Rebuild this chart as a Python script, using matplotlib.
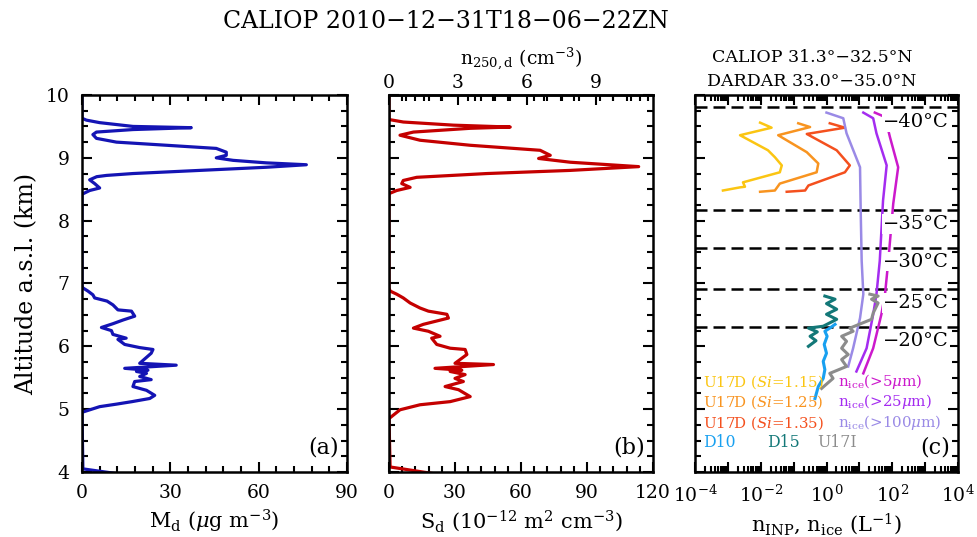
import matplotlib
matplotlib.use("Agg")
import matplotlib.pyplot as plt
import numpy as np
from matplotlib.ticker import MultipleLocator, LogLocator, NullFormatter, FixedLocator

plt.rcParams['font.family'] = ['DejaVu Serif']
plt.rcParams['mathtext.fontset'] = 'dejavuserif'

# ---------------- data ----------------
# Panel (a): dust mass concentration M_d (ug m-3) vs altitude (km)
alt_a = [3.96, 4.05, 4.95, 5.04, 5.08, 5.12, 5.17, 5.22, 5.30, 5.36, 5.44, 5.47, 5.52, 5.57, 5.60,
         5.62, 5.65, 5.70, 5.73, 5.89, 5.95, 5.98, 6.03, 6.11, 6.13, 6.19, 6.25, 6.30, 6.36, 6.42,
         6.48, 6.56, 6.58, 6.66, 6.72, 6.77, 6.82, 6.88, 6.93, 6.96, 8.42, 8.48, 8.52, 8.59, 8.65,
         8.70, 8.72, 8.75, 8.80, 8.85, 8.89, 8.92, 8.96, 9.00, 9.04, 9.09, 9.15, 9.20, 9.25, 9.31,
         9.37, 9.41, 9.45, 9.48, 9.50, 9.56, 9.60, 9.63, 10.0]
md = [13.9, 0.3, 0.0, 6.0, 11.7, 17.0, 23.0, 24.7, 21.9, 17.3, 17.9, 23.5, 19.6, 21.9, 18.5,
      22.4, 14.5, 32.0, 19.6, 23.5, 24.1, 19.6, 14.5, 12.2, 15.0, 10.5, 10.0, 6.6, 10.5, 14.0,
      17.9, 16.8, 12.2, 10.5, 8.5, 4.3, 3.7, 2.0, 0.3, 0.0, 0.0, 2.6, 6.0, 4.3, 2.6,
      5.0, 8.3, 17.3, 40.0, 62.6, 76.2, 62.6, 51.3, 45.6, 49.0, 49.0, 45.6, 28.7, 11.7, 4.9,
      3.7, 4.9, 17.3, 37.1, 17.3, 6.0, 1.5, 0.0, 0.0]

# Panel (b): dust surface area S_d (1e-12 m2 cm-3) vs altitude (km)
alt_b = [3.97, 4.08, 4.85, 4.99, 5.07, 5.12, 5.20, 5.31, 5.36, 5.44, 5.49, 5.55, 5.60, 5.62, 5.65,
         5.71, 5.73, 5.87, 5.95, 5.97, 6.03, 6.13, 6.16, 6.24, 6.29, 6.35, 6.45, 6.51, 6.56, 6.61,
         6.69, 6.77, 6.83, 6.88, 6.93, 8.43, 8.48, 8.53, 8.59, 8.64, 8.69, 8.75, 8.80, 8.86, 8.93,
         8.99, 9.04, 9.12, 9.20, 9.28, 9.36, 9.41, 9.47, 9.49, 9.52, 9.57, 9.61, 10.0]
sd = [20.9, 0.5, 0.0, 5.0, 14.1, 27.8, 36.9, 31.6, 25.5, 33.8, 30.0, 34.6, 27.8, 33.1, 20.9,
      47.5, 30.0, 35.4, 34.6, 27.8, 21.7, 19.4, 23.2, 17.9, 11.1, 15.6, 27.0, 26.3, 17.9, 14.1,
      9.6, 6.5, 3.5, 0.5, 0.0, 0.0, 3.5, 9.6, 5.8, 6.5, 12.6, 44.5, 82.4, 113.5, 82.4,
      68.0, 73.3, 68.7, 36.9, 14.1, 5.0, 11.1, 36.9, 55.1, 29.3, 6.5, 0.0, 0.0]
n250_per_sd = 11.47 / 120.0   # top axis n_250,d (cm-3) per unit S_d

# Panel (c): INP / ice concentrations (L-1), log10 values vs altitude
alt_u17d = [9.56, 9.48, 9.36, 9.12, 9.01, 8.88, 8.77, 8.61, 8.54, 8.53, 8.48]
u17d_115 = [-2.02, -1.67, -2.63, -1.78, -1.57, -1.36, -1.42, -2.54, -2.48, -2.63, -3.15]
alt_u17d25 = [9.55, 9.49, 9.36, 9.09, 8.91, 8.77, 8.59, 8.48, 8.46]
u17d_125 = [-0.86, -0.50, -1.47, -0.60, -0.25, -0.30, -1.42, -1.57, -2.02]
alt_u17d35 = [9.55, 9.48, 9.38, 9.12, 8.88, 8.77, 8.56, 8.48, 8.46]
u17d_135 = [0.10, 0.56, -0.60, 0.31, 0.71, 0.56, -0.55, -0.65, -1.21]

alt_ice = [9.72, 9.63, 9.39, 8.85, 8.16, 7.36, 6.83, 6.45, 5.97, 5.68]
ice_100 = [0.00, 0.51, 0.61, 1.02, 1.04, 1.07, 1.12, 1.02, 0.81, 0.66]
alt_ice25 = [9.72, 9.63, 9.39, 8.88, 8.32, 7.36, 6.83, 6.51, 5.97, 5.60]
ice_25 = [1.12, 1.42, 1.52, 1.83, 1.72, 1.62, 1.52, 1.42, 1.22, 0.91]
alt_ice5 = [9.72, 9.65, 9.33, 8.85, 8.27, 7.36, 6.83, 6.51, 5.97, 5.57]
ice_5 = [1.47, 1.78, 1.93, 2.18, 2.03, 1.88, 1.78, 1.67, 1.42, 1.12]

alt_u17i = [5.33, 5.49, 5.57, 5.68, 5.79, 5.87, 5.97, 6.08, 6.16, 6.24, 6.29, 6.43, 6.53, 6.69, 6.75, 6.80, 6.83]
u17i = [-0.15, 0.20, 0.10, 0.61, 0.46, 0.66, 0.46, 0.61, 0.46, 0.81, 0.71, 1.37, 1.42, 1.57, 1.37, 1.57, 1.32]
alt_d10 = [5.17, 5.36, 5.49, 5.63, 5.76, 5.89, 6.03, 6.16, 6.24, 6.29, 6.35]
d10 = [-0.35, -0.25, -0.10, -0.05, -0.10, 0.00, -0.07, 0.02, -0.05, 0.10, 0.26]
alt_d15 = [6.00, 6.09, 6.16, 6.23, 6.29, 6.32, 6.43, 6.51, 6.59, 6.68, 6.75, 6.80]
d15 = [-0.55, -0.32, -0.50, -0.28, -0.55, -0.10, 0.31, 0.00, 0.31, 0.00, 0.26, -0.05]

iso_alt = [9.81, 8.17, 7.57, 6.91, 6.30]
temp_labels = ['\u221240\u00b0C', '\u221235\u00b0C', '\u221230\u00b0C', '\u221225\u00b0C', '\u221220\u00b0C']
temp_label_alt = [9.57, 7.95, 7.35, 6.69, 6.08]

# ---------------- figure ----------------
W, H = 977, 537
fig = plt.figure(figsize=(W / 100, H / 100), dpi=100)

def pos(x0, x1, y0, y1):
    return [x0 / W, 1 - y1 / H, (x1 - x0) / W, (y1 - y0) / H]

ax_a = fig.add_axes(pos(82, 347, 95, 472))
ax_b = fig.add_axes(pos(389, 653, 95, 472))
ax_c = fig.add_axes(pos(695, 958, 95, 472))

tick_fs = 13.5
for ax in (ax_a, ax_b, ax_c):
    for s in ax.spines.values():
        s.set_linewidth(1.8)
    ax.set_ylim(4, 10)
    ax.yaxis.set_major_locator(MultipleLocator(1))
    ax.yaxis.set_minor_locator(MultipleLocator(0.25))
    ax.tick_params(which='both', direction='in', top=True, right=True, width=1.5,
                   labelsize=tick_fs)
    ax.tick_params(which='major', length=7, pad=9)
    ax.tick_params(which='minor', length=4)

# panel a
ax_a.plot(md, alt_a, color='#1414b4', lw=2.3)
ax_a.set_xlim(0, 90)
ax_a.xaxis.set_major_locator(MultipleLocator(30))
ax_a.xaxis.set_minor_locator(MultipleLocator(6))
ax_a.set_ylabel('Altitude a.s.l. (km)', fontsize=17, labelpad=5)
ax_a.set_xlabel(r'M$_\mathregular{d}$ ($\mu$g m$^{-3}$)', fontsize=15, labelpad=4)
ax_a.text(0.97, 0.035, '(a)', transform=ax_a.transAxes, ha='right', va='bottom', fontsize=16)

# panel b
ax_b.plot(sd, alt_b, color='#c40000', lw=2.3)
ax_b.set_xlim(0, 120)
ax_b.xaxis.set_major_locator(MultipleLocator(30))
ax_b.xaxis.set_minor_locator(MultipleLocator(6))
ax_b.tick_params(labelleft=False, top=False)
ax_b.set_xlabel(r'S$_\mathregular{d}$ (10$^{-12}$ m$^2$ cm$^{-3}$)', fontsize=15, labelpad=4)
ax_b.text(0.97, 0.035, '(b)', transform=ax_b.transAxes, ha='right', va='bottom', fontsize=16)
sec = ax_b.secondary_xaxis('top', functions=(lambda s: s * n250_per_sd, lambda n: n / n250_per_sd))
sec.xaxis.set_major_locator(FixedLocator([0, 3, 6, 9]))
sec.xaxis.set_minor_locator(MultipleLocator(0.75))
sec.tick_params(which='both', direction='in', width=1.5, labelsize=tick_fs, pad=2)
sec.tick_params(which='major', length=7)
sec.tick_params(which='minor', length=4)
sec.spines['top'].set_linewidth(1.8)
sec.set_xlabel(r'n$_{250,\mathregular{d}}$ (cm$^{-3}$)', fontsize=13.5, labelpad=7)

# panel c
ax_c.set_xscale('log')
ax_c.set_xlim(1e-4, 1e4)
ax_c.xaxis.set_minor_locator(LogLocator(base=10, subs=np.arange(2, 10), numticks=100))
ax_c.xaxis.set_minor_formatter(NullFormatter())
ax_c.set_xticks([1e-4, 1e-3, 1e-2, 1e-1, 1, 10, 1e2, 1e3, 1e4])
ax_c.set_xticklabels([r'10$^{-4}$', '', r'10$^{-2}$', '', r'10$^{0}$', '', r'10$^{2}$', '', r'10$^{4}$'])
ax_c.tick_params(labelleft=False)
ax_c.set_xlabel(r'n$_\mathregular{INP}$, n$_\mathregular{ice}$ (L$^{-1}$)', fontsize=15, labelpad=4)

for a in iso_alt:
    ax_c.axhline(a, color='black', lw=1.8, dashes=(4.8, 2.4))
for lab, a in zip(temp_labels, temp_label_alt):
    ax_c.text(0.965, a, lab, transform=ax_c.get_yaxis_transform(), ha='right', va='center',
              fontsize=14, bbox=dict(facecolor='white', edgecolor='none', pad=0.5))

lw_c = 1.8
def lp(vals):
    return [10.0 ** v for v in vals]

ax_c.plot(lp(u17d_115), alt_u17d, color='#fbc512', lw=lw_c)
ax_c.plot(lp(u17d_125), alt_u17d25, color='#f89420', lw=lw_c)
ax_c.plot(lp(u17d_135), alt_u17d35, color='#f4501e', lw=lw_c)
ax_c.plot(lp(ice_100), alt_ice, color='#9a8ae6', lw=lw_c)
ax_c.plot(lp(ice_25), alt_ice25, color='#a42cf0', lw=lw_c)
ax_c.plot(lp(ice_5), alt_ice5, color='#cc19cc', lw=lw_c)
ax_c.plot(lp(u17i), alt_u17i, color='#8c8c8c', lw=2.2)
ax_c.plot(lp(d10), alt_d10, color='#18a0f0', lw=2.2)
ax_c.plot(lp(d15), alt_d15, color='#137878', lw=2.2)

lfs = 10.8
ax_c.text(0.03, 0.239, r'U17D ($Si$=1.15)', color='#fbc512', transform=ax_c.transAxes, fontsize=lfs, va='center')
ax_c.text(0.03, 0.186, r'U17D ($Si$=1.25)', color='#f89420', transform=ax_c.transAxes, fontsize=lfs, va='center')
ax_c.text(0.03, 0.130, r'U17D ($Si$=1.35)', color='#f4501e', transform=ax_c.transAxes, fontsize=lfs, va='center')
ax_c.text(0.03, 0.077, 'D10', color='#18a0f0', transform=ax_c.transAxes, fontsize=lfs + 0.5, va='center')
ax_c.text(0.275, 0.077, 'D15', color='#137878', transform=ax_c.transAxes, fontsize=lfs + 0.5, va='center')
ax_c.text(0.465, 0.077, 'U17I', color='#8c8c8c', transform=ax_c.transAxes, fontsize=lfs + 0.5, va='center')
ax_c.text(0.545, 0.239, r'n$_\mathregular{ice}$(>5$\mu$m)', color='#cc19cc', transform=ax_c.transAxes, fontsize=lfs, va='center')
ax_c.text(0.545, 0.186, r'n$_\mathregular{ice}$(>25$\mu$m)', color='#a42cf0', transform=ax_c.transAxes, fontsize=lfs, va='center')
ax_c.text(0.545, 0.130, r'n$_\mathregular{ice}$(>100$\mu$m)', color='#9a8ae6', transform=ax_c.transAxes, fontsize=lfs, va='center')
ax_c.text(0.97, 0.035, '(c)', transform=ax_c.transAxes, ha='right', va='bottom', fontsize=16)

fig.text(446 / W, 1 - 22 / H, 'CALIOP 2010\u221212\u221231T18\u221206\u221222ZN', ha='center', va='center', fontsize=17)
fig.text(812 / W, 1 - 57 / H, 'CALIOP 31.3\u00b0\u221232.5\u00b0N', ha='center', va='center', fontsize=12.5)
fig.text(812 / W, 1 - 82 / H, 'DARDAR 33.0\u00b0\u221235.0\u00b0N', ha='center', va='center', fontsize=12.5)

fig.savefig('out.png', dpi=100)
